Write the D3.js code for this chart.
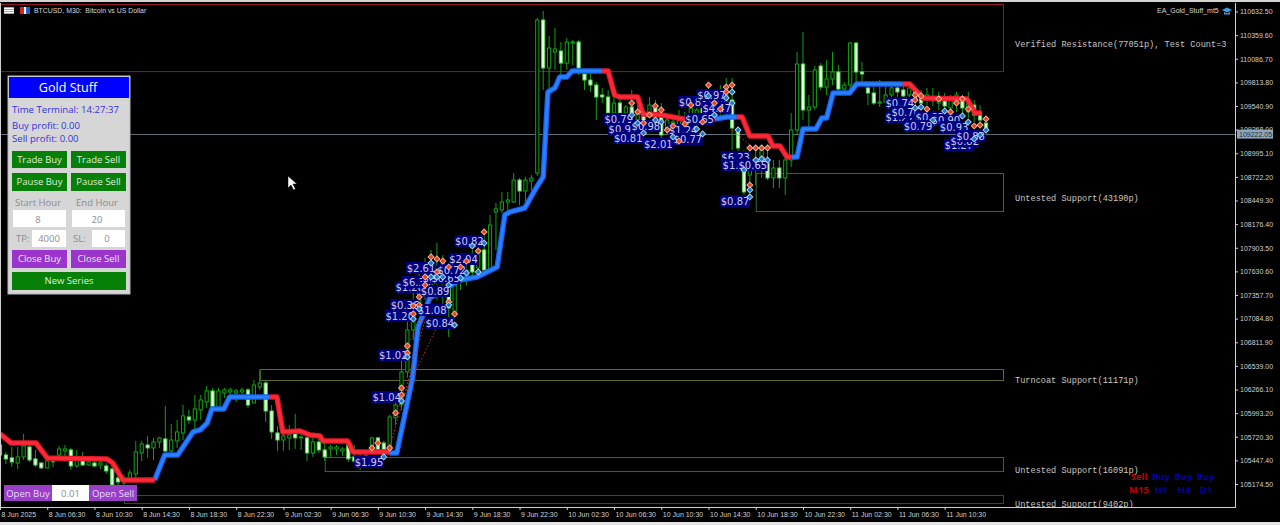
<!DOCTYPE html>
<html><head><meta charset="utf-8">
<script src="https://cdn.jsdelivr.net/npm/d3@7/dist/d3.min.js"></script>
<style>html,body{margin:0;padding:0;background:#000;overflow:hidden}svg{display:block}</style>
</head><body><svg id="c" width="1280" height="525"></svg>
<script>
const opens=[105625,105510,105476,105417,105487,105602,105464,105417,105360,105429,105510,105556,105568,105383,105452,105394,105417,105394,105383,105348,105245,105186,105221,105291,105533,105625,105591,105660,105695,105556,105672,105764,105949,105914,106030,106122,106249,106064,106226,106238,106226,106238,106261,106110,106295,106341,106018,105764,105683,105707,105753,105707,105707,105533,105660,105568,105579,105579,105556,105637,105487,105440,105452,105568,105707,105648,105568,105938,106087,106469,106954,107242,107416,107473,107531,107589,107450,107127,107508,107531,107739,107670,107878,107647,108317,108340,108432,108432,108686,108559,108674,108767,110534,109980,110165,110176,110037,110268,110280,109911,109841,109783,109668,109645,109460,109575,109460,109529,109379,109437,109437,109518,109414,109287,109287,109321,109402,109402,109402,109518,109472,109610,109472,109495,109610,109264,108802,108744,108802,108860,108883,108710,108825,108710,108917,109264,110026,109495,109529,110003,109760,109853,109934,109737,109783,110268,109934,109749,109691,109575,109587,109668,109749,109726,109668,109703,109668,109610,109599,109575,109610,109518,109575,109634,109472,109552,109460,109344];
const highs=[105683,105545,105602,105602,105753,105660,105568,105429,105476,105452,105614,105625,105591,105568,105545,105452,105452,105476,105417,105383,105314,105279,105337,105672,105672,105730,105707,105718,106076,105868,105914,106087,106030,106203,106203,106307,106284,106284,106284,106284,106272,106284,106284,106376,106492,106376,106087,105845,105799,105856,105984,105799,105776,105707,105730,105660,105625,105625,105602,105683,105625,105510,105545,105718,105718,105672,105972,106203,106607,107093,107416,107647,107786,107878,107958,107820,107589,107647,107739,107786,107878,108051,108086,108282,108420,108548,108548,108767,108709,108721,108744,110558,110638,110350,110442,110280,110327,110303,110303,109957,109934,109818,109749,109726,109645,109610,109552,109726,109552,109518,109645,109610,109575,109460,109437,109495,109472,109552,109552,109575,109749,109668,109783,109864,109864,109287,109033,109067,109033,109056,109067,108917,108917,108975,109460,110165,110396,109668,110003,110037,110072,110165,110014,109818,110280,110280,110049,109783,109783,109841,109783,109806,109818,109783,109806,109749,109726,109749,109749,109703,109691,109668,109703,109668,109703,109610,109552,109402];
const lows=[105476,105406,105371,105348,105452,105429,105371,105348,105360,105371,105452,105499,105337,105360,105383,105383,105371,105348,105291,105106,105106,105129,105198,105221,105440,105476,105452,105591,105545,105510,105591,105683,105868,105799,105914,106053,106030,106030,106169,106145,106122,106169,106053,106110,106261,105891,105695,105556,105556,105568,105579,105568,105440,105487,105533,105440,105487,105510,105499,105429,105417,105337,105360,105545,105545,105545,105510,105856,106030,106400,106838,107162,107300,107358,107300,107185,106873,107069,107416,107473,107531,107624,107624,107624,107878,108305,108317,108420,108397,108420,108559,108733,109726,109726,109957,109899,109957,110014,109899,109726,109703,109379,109575,109379,109437,109402,109379,109321,109287,109264,109402,109356,109171,109206,109148,109206,109241,109321,109356,109321,109402,109402,109437,109425,109033,108917,108478,108571,108628,108710,108686,108594,108594,108513,108836,109206,109379,109264,109495,109726,109668,109783,109703,109668,109703,109783,109783,109552,109552,109529,109541,109610,109645,109610,109610,109541,109518,109552,109541,109495,109472,109437,109472,109437,109402,109356,109321,109206];
const closes=[105510,105464,105429,105487,105614,105452,105394,105360,105440,105440,105579,105579,105383,105452,105394,105429,105383,105417,105325,105163,105198,105233,105302,105545,105637,105591,105660,105707,105556,105683,105776,105961,105914,106041,106145,106249,106064,106249,106261,106261,106249,106261,106087,106318,106341,106018,105776,105683,105730,105741,105707,105718,105533,105660,105568,105487,105602,105602,105579,105464,105440,105371,105499,105707,105568,105568,105949,106087,106469,106954,107300,107473,107624,107739,107704,107739,107208,107531,107624,107647,107624,107878,107647,108166,108352,108432,108455,108686,108559,108686,108709,110534,109980,110211,110199,110037,110280,110280,109980,109841,109783,109645,109645,109460,109575,109460,109529,109437,109472,109356,109552,109414,109206,109379,109356,109402,109287,109518,109495,109402,109610,109495,109668,109726,109287,109056,108548,108802,108917,109033,108710,108825,108710,108917,109264,110026,109495,109529,109957,109760,109853,109934,109737,109783,110268,109934,109911,109691,109575,109587,109668,109749,109703,109657,109749,109610,109575,109668,109634,109645,109541,109610,109668,109518,109610,109437,109379,109264];

const redBars=[[0,1.9,6.1,8,18.1,19.1,20.8,26.2],[45.7,46.9,47.9,50.8,52.5,54.2,54.7,58.9,59.8,66],[102,103,104.1,105,108,108.9,112.1,115.7,121.1],[124.8,125.7,127,130.1,130.9,132.1,133.3,134.1],[152.9,154.1,156.3,163.8,165.1,166.3]];
const redPrices=[[105753,105648,105648,105476,105464,105417,105221,105221],[106180,106180,105776,105787,105741,105730,105672,105672,105545,105545],[109945,109945,109668,109645,109645,109448,109437,109391,109391],[109414,109414,109194,109194,109079,109079,108952,108952],[109795,109795,109633,109622,109460,109460]];
const blueBars=[[26.2,27.9,30.1,32.7,33.9,35.1,35.9,37.9,38.9,45.7],[66,67.2,69.9,70.8,72.8,77.9,80.8,84.2,85.5,86.4,88.9,90.9,92,92.8,94,94.8,96,96.9,102],[121.1,123.1,124.8],[134.1,135,136,138.2,139.2,140,141.1,143.9,145.1,152.9]];
const bluePrices=[[105221,105510,105510,105776,105799,105880,106041,106041,106180,106180],[105533,105533,106411,106988,107323,107531,107566,107681,108282,108317,108363,108605,108721,109702,109749,109876,109876,109945,109945],[109391,109414,109414],[108952,108952,109275,109275,109402,109402,109691,109691,109795,109795]];

const sellBars=[82,81,79,78,76,75,74,73,74,72,72,71,70,71,70,76,77,69,69,63,64,66,67,68,68,107,108,110,111,112,109,113,114,115,116,117,119,120,121,122,123,123,124,127,128,129,130,127,155,155,156,157,159,161,162,163,164,165,166,167];
const sellPrices=[108086,107866,107750,107681,107681,107750,107774,107797,107624,107566,107473,107335,107231,107242,107139,107277,107139,106769,106688,105591,105648,105591,105995,106284,106203,109575,109472,109437,109541,109495,109344,109264,109310,109136,109333,109552,109356,109783,109575,109506,109760,109703,109783,109056,109056,109056,109056,108628,109668,109610,109657,109506,109622,109472,109575,109622,109506,109310,109321,109391];
const buyBars=[82,80,81,79,78,76,75,74,73,73,76,71,70,77,69,65,68,107,108,109,111,112,114,118,119,120,121,123,124,124,125,126,127,127,128,129,130,155,156,158,160,163,164,165,166,167];
const buyPrices=[107958,107924,107624,107612,107555,107473,107566,107566,107566,107727,107242,107196,107081,107011,106642,105487,106133,109437,109344,109229,109379,109356,109183,109275,109218,109657,109437,109634,109703,109575,109264,108802,108571,108490,108917,108929,108917,109518,109529,109379,109483,109426,109356,109160,109206,109264];

const labelTexts=["$1.95","$1.04","$1.02","$1.20","$0.36","$1.28","$6.35","$2.61","$0.92","$0.65","$0.72","$2.04","$0.82","$0.89","$1.08","$0.84","$0.79","$0.99","$0.98","$0.81","$2.01","$1.24","$0.77","$0.83","$0.65","$0.97","$4.47","$6.23","$1.23","$0.65","$0.87","$0.74","$1.27","$0.76","$0.83","$0.90","$0.79","$0.93","$1.27","$0.82","$0.88"];
const labelBars=[62.5,65.5,66.6,67.7,68.6,69.4,70.6,71.3,74,75.5,76.5,78.5,79.5,73.7,73.2,74.5,104.8,105.5,109.4,106.4,111.5,115.7,116.5,117.4,118.5,120.5,121.4,124.6,124.8,127.5,124.5,152.4,152.4,153.4,157.5,160.2,155.5,161.6,162.4,163.4,164.4];
const labelPrices=[105429,106180,106665,107116,107242,107450,107508,107670,107555,107555,107647,107774,107981,107404,107185,107034,109391,109275,109310,109171,109102,109264,109160,109587,109391,109668,109518,108952,108860,108860,108443,109575,109414,109472,109414,109379,109310,109298,109090,109136,109194];

const tradeBarsA=[66,67,69,124],tradePricesA=[105591,105995,106769,109264],tradeBarsB=[74,76,73,130],tradePricesB=[107566,107277,107300,108917];

const zoneNames=["Verified Resistance(77051p), Test Count=3","Untested Support(43190p)","Turncoat Support(11171p)","Untested Support(16091p)","Untested Support(9402p)"];
const zoneStartBars=[0,128,44,55,21];
const zoneTops=[110720,108768,106503,105487,105048];
const zoneBottoms=[109945,108329,106376,105325,104955];
const zoneColors=["#8e1626","#2f6b3c","#5d6b24","#2f6b3c","#24552f"];
const zoneLabelPrices=[110257,108478,106376,105337,104940];

const priceTicks=[110632.5,110359.6,110086.7,109813.8,109540.9,109268,108995.1,108722.2,108449.3,108176.4,107903.5,107630.6,107357.7,107084.8,106811.9,106539,106266.1,105993.2,105720.3,105447.4,105174.5];
const timeLabels=["8 Jun 2025","8 Jun 06:30","8 Jun 10:30","8 Jun 14:30","8 Jun 18:30","8 Jun 22:30","9 Jun 02:30","9 Jun 06:30","9 Jun 10:30","9 Jun 14:30","9 Jun 18:30","9 Jun 22:30","10 Jun 02:30","10 Jun 06:30","10 Jun 10:30","10 Jun 14:30","10 Jun 18:30","10 Jun 22:30","11 Jun 02:30","11 Jun 06:30","11 Jun 10:30"];
const currentPrice=109222.05;

const svg=d3.select("#c");
const x=d3.scaleLinear().domain([0,167]).range([0,986]);
const y=d3.scaleLinear().domain([110632.5,105174.5]).range([11.5,484]);
const ui='"Open Sans",sans-serif';

svg.append("rect").attr("width",1280).attr("height",525).attr("fill","#000");
const defs=svg.append("defs");
defs.append("clipPath").attr("id","plot").append("rect").attr("x",1).attr("y",3).attr("width",1234).attr("height",504);
const plot=svg.append("g").attr("clip-path","url(#plot)");

zoneNames.forEach((n,i)=>{
  plot.append("rect").attr("x",x(zoneStartBars[i])+.5).attr("y",Math.round(y(zoneTops[i]))+.5)
    .attr("width",1003-x(zoneStartBars[i])).attr("height",y(zoneBottoms[i])-y(zoneTops[i]))
    .attr("fill","none").attr("stroke",zoneColors[i]);
});
plot.append("line").attr("x1",0).attr("x2",1235).attr("y1",Math.round(y(currentPrice))+.5).attr("y2",Math.round(y(currentPrice))+.5).attr("stroke","#5f6d78");

const bars=d3.range(opens.length);
const cg=plot.append("g");
cg.selectAll("line").data(bars).join("line")
  .attr("x1",i=>x(i)).attr("x2",i=>x(i)).attr("y1",i=>y(highs[i])).attr("y2",i=>y(lows[i]))
  .attr("stroke","#10a010").attr("stroke-width",1);
cg.selectAll("rect").data(bars).join("rect")
  .attr("x",i=>x(i)-1.6).attr("width",3.2)
  .attr("y",i=>y(Math.max(opens[i],closes[i])))
  .attr("height",i=>Math.max(1,Math.abs(y(opens[i])-y(closes[i]))))
  .attr("fill",i=>closes[i]<opens[i]?"#eaffe2":"#000")
  .attr("stroke",i=>closes[i]<opens[i]?"#50d850":"#10a610").attr("stroke-width",1);

const tl=(bs,ps)=>d3.line().x((d,i)=>x(bs[i])).y((d,i)=>y(ps[i]))(bs);
const drawTrend=(B,P,outer,inner)=>B.forEach((b,k)=>{
  plot.append("path").attr("d",tl(b,P[k])).attr("fill","none").attr("stroke",outer).attr("stroke-width",5.5).attr("stroke-linejoin","round");
  plot.append("path").attr("d",tl(b,P[k])).attr("fill","none").attr("stroke",inner).attr("stroke-width",3).attr("stroke-linejoin","round");
});
drawTrend(blueBars,bluePrices,"#1560f0","#2a80ff");
drawTrend(redBars,redPrices,"#e01828","#ff2a38");

tradeBarsA.forEach((b,i)=>plot.append("line").attr("x1",x(b)).attr("y1",y(tradePricesA[i])).attr("x2",x(tradeBarsB[i])).attr("y2",y(tradePricesB[i]))
  .attr("stroke","#c8301f").attr("stroke-dasharray","1.5,2"));

const lg=plot.append("g");
labelTexts.forEach((t,i)=>{
  const g=lg.append("g").attr("transform",`translate(${x(labelBars[i])},${y(labelPrices[i])})`);
  const r=g.append("rect").attr("fill","#00007e").attr("y",-6).attr("height",12);
  const tx=g.append("text").text(t).attr("text-anchor","middle").attr("y",3.6).attr("fill","#c8ccf0")
    .style("font","10px 'DejaVu Sans',sans-serif");
  const w=tx.node().getComputedTextLength()+1;
  r.attr("x",-w/2).attr("width",w);
});

const diamond=(bx,py,halo,core)=>plot.append("g").selectAll("g").data(bx).join("g")
  .attr("transform",(d,i)=>`translate(${x(d)},${y(py[i])})`)
  .each(function(){
    const g=d3.select(this);
    g.append("path").attr("d",d3.symbol(d3.symbolSquare,26)()).attr("transform","rotate(45)").attr("fill",halo);
    g.append("path").attr("d",d3.symbol(d3.symbolSquare,11)()).attr("transform","rotate(45)").attr("fill",core);
  });
diamond(sellBars,sellPrices,"#f0b8a8","#e8431c");
diamond(buyBars,buyPrices,"#b8d8f4","#1878c8");

zoneNames.forEach((n,i)=>{
  plot.append("text").text(n).attr("x",1015).attr("y",y(zoneLabelPrices[i])+3).attr("fill","#c8c8c0")
    .style("font","8.6px 'Liberation Mono',monospace");
});

const ay=d3.axisRight(y).tickValues(priceTicks).tickFormat(d=>d.toFixed(2)).tickSize(3).tickPadding(2);
const gy=svg.append("g").attr("transform","translate(1235,0)").call(ay);
gy.select(".domain").remove();
gy.selectAll("line").attr("stroke","#d0d0d0");
gy.selectAll("text").attr("fill","#d0d0d0").style("font","7px 'Liberation Sans',sans-serif");
const ax=d3.axisBottom(x).tickValues(timeLabels.map((d,i)=>i*8)).tickFormat((d,i)=>timeLabels[i]).tickSize(3).tickPadding(2);
const gx=svg.append("g").attr("transform","translate(0,507)").call(ax);
gx.select(".domain").remove();
gx.selectAll("line").attr("stroke","#d0d0d0");
gx.selectAll("text").attr("fill","#d0d0d0").attr("text-anchor","start").attr("dx",1).style("font","7px 'Liberation Sans',sans-serif");

svg.append("rect").attr("x",0).attr("y",0).attr("width",1280).attr("height",2).attr("fill","#d4d4d4");
svg.append("rect").attr("x",0).attr("y",3).attr("width",1).attr("height",504).attr("fill","#d0d0d0");
svg.append("rect").attr("x",1235).attr("y",3).attr("width",1).attr("height",505).attr("fill","#d0d0d0");
svg.append("rect").attr("x",0).attr("y",507).attr("width",1236).attr("height",1).attr("fill","#d0d0d0");
svg.append("rect").attr("x",0).attr("y",522).attr("width",1280).attr("height",3).attr("fill","#e4e4e4");

svg.append("rect").attr("x",1237).attr("y",y(currentPrice)-4).attr("width",36).attr("height",9).attr("fill","#8ea6ba");
svg.append("text").text(currentPrice.toFixed(2)).attr("x",1239).attr("y",y(currentPrice)+3).attr("fill","#26303a").style("font","7px 'Liberation Sans',sans-serif");

const T=(s,xx,yy,f,font,anchor)=>svg.append("text").text(s).attr("x",xx).attr("y",yy).attr("fill",f).attr("text-anchor",anchor||"start").style("font",font);
T("BTCUSD, M30:  Bitcoin vs US Dollar",34,13,"#d8d8d8","6.9px 'Liberation Sans',sans-serif").style("white-space","pre");
T("EA_Gold_Stuff_mt5",1157,13,"#d8d8d8","7px 'Liberation Sans',sans-serif");
svg.append("rect").attr("x",4).attr("y",7).attr("width",10).attr("height",7).attr("fill","#f08a78");
[8,10,12].forEach(v=>svg.append("rect").attr("x",4).attr("y",v).attr("width",10).attr("height",1).attr("fill","#fff"));
svg.append("rect").attr("x",20).attr("y",7).attr("width",4).attr("height",7).attr("fill","#e02020");
svg.append("rect").attr("x",24).attr("y",7).attr("width",2).attr("height",7).attr("fill","#fff");
svg.append("rect").attr("x",26).attr("y",7).attr("width",4).attr("height",7).attr("fill","#2060c0");
svg.append("path").attr("d","M1222 10l5-2.5 5 2.5-5 2.5zM1224 12v2.5h6V12l-3 1.5z").attr("fill","#3aa0e8");

const P=(xx,yy,w,h,f)=>svg.append("rect").attr("x",xx).attr("y",yy).attr("width",w).attr("height",h).attr("fill",f);
P(8,76,122,218,"#d6d6d6").attr("stroke","#b8b8c8");
P(9,77,120,21,"#0000ff");
T("Gold Stuff",68,92,"#fff","500 12.6px 'Open Sans',sans-serif","middle");
T("Time Terminal: 14:27:37",12,113,"#3434d8",`9.6px ${ui}`);
T("Buy profit: 0.00",12,128.5,"#3434d8",`9.6px ${ui}`);
T("Sell profit: 0.00",12,142,"#3434d8",`9.6px ${ui}`);
const btn=(s,xx,yy,w,h,f)=>{P(xx,yy,w,h,f);T(s,xx+w/2,yy+h/2+3.4,"#dff0df",`9.5px ${ui}`,"middle");};
btn("Trade Buy",12,151,55,17,"#078007");btn("Trade Sell",71,151,55,17,"#078007");
btn("Pause Buy",12,173,55,18,"#078007");btn("Pause Sell",71,173,55,18,"#078007");
T("Start Hour",38,206,"#8c8c8c",`9.5px ${ui}`,"middle");T("End Hour",97,206,"#8c8c8c",`9.5px ${ui}`,"middle");
P(13,210,53,17,"#fff");P(72,210,53,17,"#fff");
T("8",38,223,"#8c8c8c",`9.5px ${ui}`,"middle");T("20",97,223,"#8c8c8c",`9.5px ${ui}`,"middle");
T("TP:",16,242,"#8c8c8c",`9.5px ${ui}`);T("SL:",73,242,"#8c8c8c",`9.5px ${ui}`);
P(32,230,34,17,"#fff");P(92,230,33,17,"#fff");
T("4000",49,242,"#8c8c8c",`9.5px ${ui}`,"middle");T("0",107,242,"#8c8c8c",`9.5px ${ui}`,"middle");
btn("Close Buy",12,250,55,18,"#9a34cc");btn("Close Sell",71,250,55,18,"#9a34cc");
btn("New Series",12,272,114,18,"#078007");

const btn2=(s,xx,w)=>{P(xx,485,w,16,"#9a40c8");T(s,xx+w/2,496.5,"#e8d8f4",`9.5px ${ui}`,"middle");};
btn2("Open Buy",4,48);P(52,485,37,16,"#fff");T("0.01",70.5,496.5,"#8c8c8c",`9.5px ${ui}`,"middle");btn2("Open Sell",89,48);

const S=(s,c,xx,yy)=>T(s,xx,yy,c,"bold 9.5px 'Open Sans',sans-serif","middle");
S("Sell","#c00000",1139,480);S("Buy","#0000a8",1161,480);S("Buy","#0000a8",1183.5,480);S("Buy","#0000a8",1205.5,480);
S("M15","#c00000",1139,493);S("H1","#0000a8",1161,493);S("H4","#0000a8",1184,493);S("D1","#0000a8",1206,493);

svg.append("path").attr("d","M288 176v12l3-3 2.5 5 2-1-2.5-5h4z").attr("fill","#fff").attr("stroke","#000").attr("stroke-width",.5);
</script></body></html>
